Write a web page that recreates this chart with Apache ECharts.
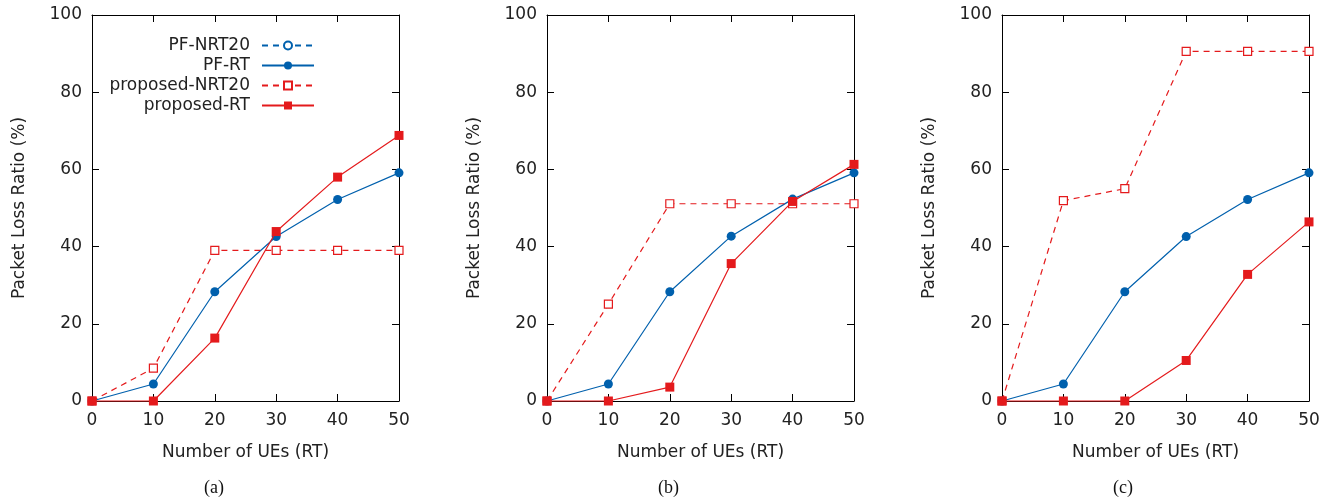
<!DOCTYPE html>
<html>
<head>
<meta charset="utf-8">
<script src="https://cdn.jsdelivr.net/npm/echarts@6/dist/echarts.min.js"></script>
<style>html,body{margin:0;padding:0;background:#fff}#c{width:1335px;height:502px}</style>
</head>
<body>
<div id="c"></div>
<script>
const xValues = [0, 10, 20, 30, 40, 50];
const panelCaptions = ['(a)', '(b)', '(c)'];
const seriesNames = ['PF-NRT20', 'PF-RT', 'proposed-NRT20', 'proposed-RT'];
// panel (a)
const a_pfNrt20 = [];
const a_pfRt = [0, 4.4, 28.3, 42.6, 52.2, 59.1];
const a_propNrt20 = [0, 8.5, 39.0, 39.0, 39.0, 39.0];
const a_propRt = [0, 0, 16.3, 43.9, 58.0, 68.8];
// panel (b)
const b_pfNrt20 = [];
const b_pfRt = [0, 4.4, 28.3, 42.7, 52.3, 59.1];
const b_propNrt20 = [0, 25.1, 51.1, 51.1, 51.1, 51.1];
const b_propRt = [0, 0, 3.6, 35.6, 51.7, 61.3];
// panel (c)
const c_pfNrt20 = [];
const c_pfRt = [0, 4.4, 28.3, 42.6, 52.2, 59.1];
const c_propNrt20 = [0, 51.9, 55.0, 90.6, 90.6, 90.6];
const c_propRt = [0, 0, 0, 10.5, 32.8, 46.4];

const panels = [
  [a_pfNrt20, a_pfRt, a_propNrt20, a_propRt],
  [b_pfNrt20, b_pfRt, b_propNrt20, b_propRt],
  [c_pfNrt20, c_pfRt, c_propNrt20, c_propRt]
];

const BLUE = '#0060ad', RED = '#e41a1c';
const gridLefts = [92, 547, 1002];
const captionX = [216, 670, 1125];
const FONT = 'DejaVu Sans';

const grid = [], xAxis = [], yAxis = [], series = [], graphic = [];
const axisLine = {show: true, onZero: false, lineStyle: {color: '#000', width: 1}};
const tick = {show: true, inside: true, length: 7, lineStyle: {color: '#000', width: 1}};

const styles = [
  {color: BLUE, dash: [6, 5], symbol: 'circle', size: 7, filled: false},
  {color: BLUE, dash: 'solid', symbol: 'circle', size: 9, filled: true},
  {color: RED, dash: [6, 5], symbol: 'rect', size: 8, filled: false},
  {color: RED, dash: 'solid', symbol: 'rect', size: 9, filled: true}
];

panels.forEach((p, i) => {
  grid.push({left: gridLefts[i], top: 15, width: 307, height: 386});
  xAxis.push({
    type: 'value', gridIndex: i, min: 0, max: 50, interval: 10, position: 'bottom',
    name: 'Number of UEs (RT)', nameLocation: 'middle', nameGap: 43,
    nameTextStyle: {fontFamily: FONT, fontSize: 17, color: '#222'},
    axisLine, axisTick: tick, splitLine: {show: false},
    axisLabel: {fontFamily: FONT, fontSize: 17, color: '#222', margin: 11}
  });
  xAxis.push({
    type: 'value', gridIndex: i, min: 0, max: 50, interval: 10, position: 'top',
    axisLine, axisTick: tick, splitLine: {show: false}, axisLabel: {show: false}
  });
  yAxis.push({
    type: 'value', gridIndex: i, min: 0, max: 100, interval: 20, position: 'left',
    name: 'Packet Loss Ratio (%)', nameLocation: 'middle', nameGap: 64, nameRotate: 90,
    nameTextStyle: {fontFamily: FONT, fontSize: 17, color: '#222'},
    axisLine, axisTick: tick, splitLine: {show: false},
    axisLabel: {fontFamily: FONT, fontSize: 17, color: '#222', margin: 10}
  });
  yAxis.push({
    type: 'value', gridIndex: i, min: 0, max: 100, interval: 20, position: 'right',
    axisLine, axisTick: tick, splitLine: {show: false}, axisLabel: {show: false}
  });
  p.forEach((vals, k) => {
    const s = styles[k];
    series.push({
      type: 'line', name: seriesNames[k],
      xAxisIndex: i * 2, yAxisIndex: i * 2,
      data: vals.map((v, j) => [xValues[j], v]),
      symbol: s.symbol, symbolSize: s.size, showSymbol: true, clip: false,
      lineStyle: {color: s.color, width: 1.2, type: s.dash},
      itemStyle: s.filled ? {color: s.color, borderWidth: 0} : {color: '#fff', borderColor: s.color, borderWidth: 1.2},
      emphasis: {disabled: true}, animation: false, z: 2 + k
    });
  });
  graphic.push({
    type: 'text', left: captionX[i] - 12, top: 479,
    style: {text: panelCaptions[i], font: '18px "Liberation Serif"', fill: '#111'}
  });
});

const chart = echarts.init(document.getElementById('c'));
chart.setOption({
  animation: false,
  grid, xAxis, yAxis, series, graphic,
  legend: {
    data: seriesNames, orient: 'vertical', align: 'right',
    right: 1335 - 320, top: 32, itemWidth: 52, itemHeight: 10, itemGap: 3,
    textStyle: {fontFamily: FONT, fontSize: 17, lineHeight: 17, color: '#222', padding: [0, 7, 0, 0]},
    selectedMode: false
  }
});
</script>
</body>
</html>
